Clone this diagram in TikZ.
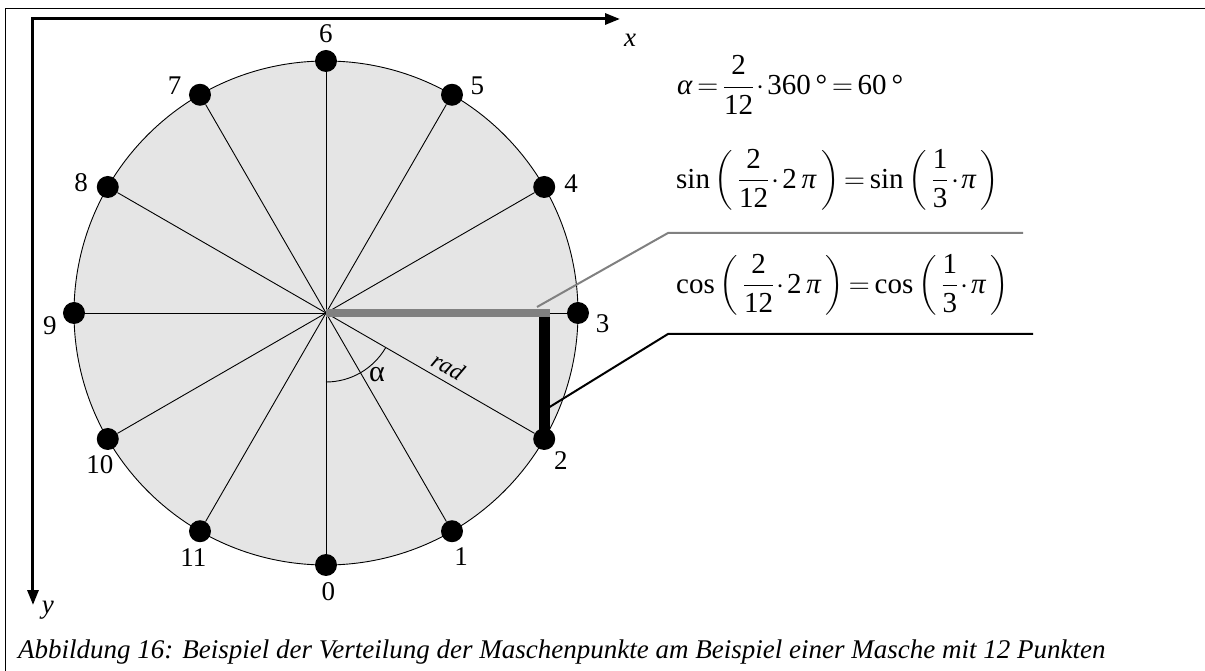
\documentclass[tikz,border=0pt]{standalone}
\usepackage{amsmath}
\usepackage{fix-cm}
\usepackage{fontspec}
\setmainfont{Liberation Serif}
\usetikzlibrary{calc, arrows.meta, positioning}

\begin{document}
\begin{tikzpicture}[x=1pt, y=1pt,
        dot/.style={circle, fill=black, inner sep=0pt, minimum size=22pt},
        num/.style={font=\fontsize{27}{30}\selectfont, inner sep=0pt},
        spoke/.style={line width=0.9pt},
        eqn/.style={font=\fontsize{29}{33}\selectfont, anchor=west, inner sep=0pt,
            execute at begin node={\thickmuskip=3mu\medmuskip=1.5mu}}]
        \useasboundingbox (-326,-358) rectangle (879,313);
        % frame
        \draw[line width=1pt] (-320,-358) -- (-320,304) -- (879,304);

        % axes
        \coordinate (o) at (-293,294);
        \coordinate (xend) at (294,294);
        \coordinate (yend) at (-293,-292);
        \draw[line width=3pt, {Triangle[length=15pt, width=11pt]}-{Triangle[length=15pt, width=11pt]}] (xend) -- (o) -- (yend);
        \node[num] (xlab) at (304,273) {\textit{x}};
        \node[num] (ylab) at (-278,-297) {\textit{y}};

        % circle with 12 points
        \coordinate (m) at (0,0);
        \draw[fill=gray!20, line width=0.9pt] (m) circle[radius=252pt];
        \foreach \k/\a in {0/-85, 1/-70, 2/-52, 3/-24, 4/7, 5/20, 6/90, 7/160, 8/170, 9/207, 10/-107, 11/-104} {
            \node[dot] (p\k) at ({-90+30*\k}:252) {};
            \draw[spoke] (m) -- (p\k);
            \node[num] (l\k) at ($(p\k)+(\a:27)$) {\k};
        }

        % sin and cos parts
        \coordinate (q) at (p2 |- m);
        \draw[line width=11pt] (q) -- (p2.center);
        \draw[gray, line width=7.5pt] (m) -- ([xshift=5.5pt]q);
        \draw[spoke] (m) ++(-90:69) arc[start angle=-90, end angle=-30, radius=69pt];
        \node[num, font=\fontsize{30}{32}\selectfont] (alpha) at (51,-62) {α};
        \path (m) -- (p2) node[pos=0.55, above=3pt, sloped, font=\itshape\fontsize{24}{26}\selectfont] (rad) {rad};

        % formulas
        \node[eqn] (eqalpha) at (351,228) {$\textit{α}=\dfrac{\text{2}}{\text{12}}\cdot\text{360\,°}=\text{60\,°}$};
        \node[eqn] (eqsin) at (350,133) {$\text{sin}\left(\,\dfrac{\text{2}}{\text{12}}\cdot\text{2\,}\textit{π}\,\right)=\text{sin}\left(\,\dfrac{\text{1}}{\text{3}}\cdot\textit{π}\,\right)$};
        \node[eqn] (eqcos) at (350,28) {$\text{cos}\left(\,\dfrac{\text{2}}{\text{12}}\cdot\text{2\,}\textit{π}\,\right)=\text{cos}\left(\,\dfrac{\text{1}}{\text{3}}\cdot\textit{π}\,\right)$};

        \coordinate (sa) at (211,6);
        \coordinate (sb) at (342,80);
        \coordinate (sc) at (697,80);
        \draw[gray, line width=2pt] (sa) -- (sb) -- (sc);
        \coordinate (ca) at (222,-95);
        \coordinate (cb) at (342,-21);
        \coordinate (cc) at (707,-21);
        \draw[line width=2pt] (ca) -- (cb) -- (cc);

        \node[anchor=base west, inner sep=0pt, font=\itshape\fontsize{27}{30}\selectfont] (caption) at (-308,-345) {Abbildung 16: Beispiel der Verteilung der Maschenpunkte am Beispiel einer Masche mit 12 Punkten};
\end{tikzpicture}
\end{document}
